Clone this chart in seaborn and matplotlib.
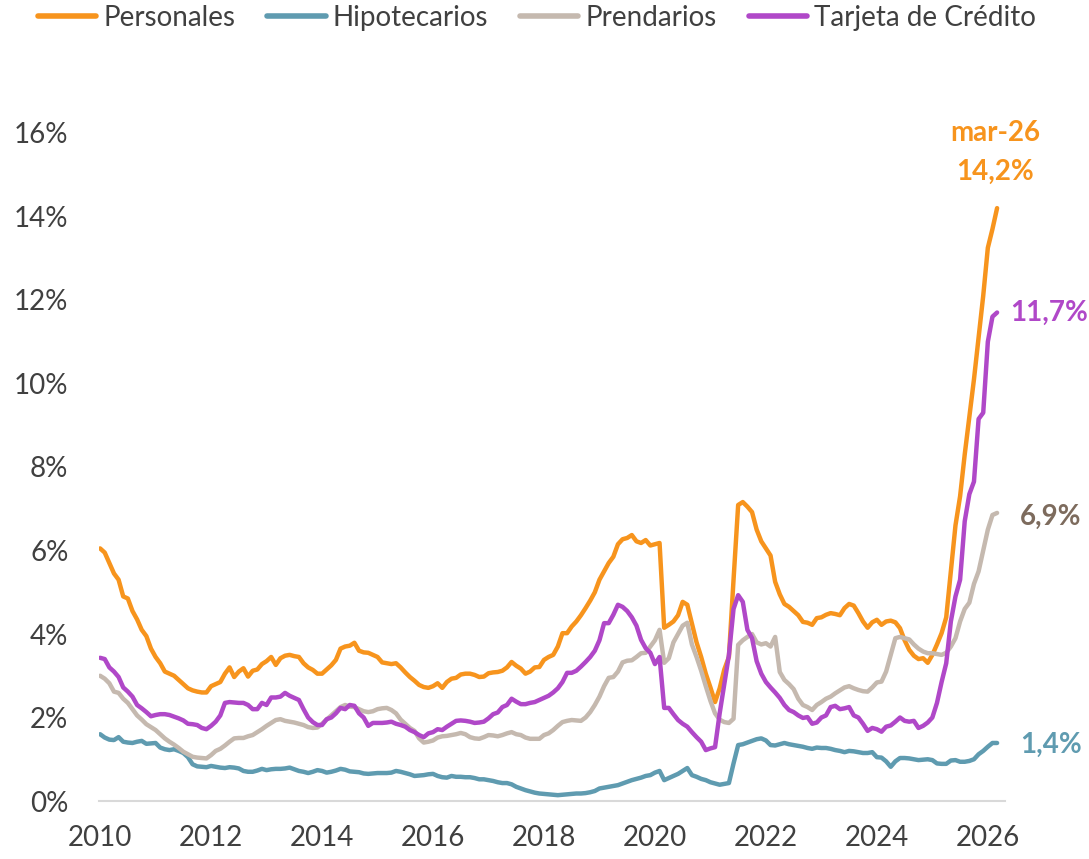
import numpy as np
import pandas as pd
import matplotlib
matplotlib.use("Agg")
import matplotlib.pyplot as plt
from matplotlib.lines import Line2D
import seaborn as sns

# monthly values, Jan 2010 .. Mar 2026 (%)
personales = [
    6.05, 5.95, 5.7, 5.45, 5.3, 4.9, 4.85, 4.55, 4.35, 4.1, 3.95, 3.65,  # 2010
    3.45, 3.3, 3.1, 3.05, 3.0, 2.9, 2.8, 2.7, 2.65, 2.62, 2.6, 2.6,  # 2011
    2.75, 2.8, 2.85, 3.05, 3.2, 2.97, 3.1, 3.18, 2.98, 3.12, 3.15, 3.28,  # 2012
    3.35, 3.45, 3.26, 3.42, 3.48, 3.5, 3.47, 3.45, 3.3, 3.2, 3.14, 3.05,  # 2013
    3.05, 3.15, 3.25, 3.38, 3.65, 3.7, 3.72, 3.79, 3.6, 3.56, 3.55, 3.5,  # 2014
    3.45, 3.32, 3.3, 3.28, 3.3, 3.2, 3.08, 2.97, 2.88, 2.78, 2.73, 2.71,  # 2015
    2.75, 2.82, 2.71, 2.85, 2.93, 2.95, 3.03, 3.05, 3.05, 3.02, 2.97, 2.98,  # 2016
    3.06, 3.08, 3.09, 3.12, 3.2, 3.33, 3.24, 3.17, 3.05, 3.1, 3.2, 3.21,  # 2017
    3.38, 3.45, 3.5, 3.7, 4.02, 4.02, 4.18, 4.3, 4.45, 4.62, 4.8, 5.0,  # 2018
    5.3, 5.5, 5.7, 5.85, 6.15, 6.27, 6.3, 6.37, 6.22, 6.18, 6.25, 6.12,  # 2019
    6.15, 6.18, 4.15, 4.22, 4.3, 4.45, 4.77, 4.7, 4.25, 3.8, 3.45, 3.05,  # 2020
    2.72, 2.37, 2.7, 3.15, 3.45, 5.3, 7.09, 7.16, 7.05, 6.92, 6.5, 6.22,  # 2021
    6.05, 5.88, 5.25, 4.95, 4.72, 4.65, 4.55, 4.45, 4.29, 4.27, 4.22, 4.38,  # 2022
    4.4, 4.46, 4.5, 4.48, 4.45, 4.62, 4.72, 4.68, 4.5, 4.3, 4.15, 4.28,  # 2023
    4.34, 4.22, 4.3, 4.32, 4.28, 4.14, 3.85, 3.62, 3.48, 3.4, 3.42, 3.31,  # 2024
    3.5, 3.75, 4.02, 4.4, 5.5, 6.6, 7.3, 8.3, 9.2, 10.1, 11.1, 12.1,  # 2025
    13.25, 13.7, 14.2,  # 2026
]
hipotecarios = [
    1.6, 1.52, 1.47, 1.46, 1.53, 1.42, 1.4, 1.39, 1.42, 1.44, 1.37, 1.38,
    1.39, 1.28, 1.24, 1.22, 1.24, 1.2, 1.15, 1.05, 0.88, 0.83, 0.82, 0.81,
    0.84, 0.82, 0.8, 0.79, 0.81, 0.8, 0.78, 0.72, 0.7, 0.7, 0.73, 0.77,
    0.74, 0.76, 0.77, 0.77, 0.78, 0.8, 0.76, 0.72, 0.7, 0.67, 0.7, 0.74,
    0.72, 0.68, 0.7, 0.73, 0.77, 0.75, 0.71, 0.7, 0.69, 0.66, 0.65, 0.66,
    0.67, 0.67, 0.67, 0.68, 0.72, 0.7, 0.67, 0.64, 0.6, 0.61, 0.62, 0.64,
    0.65, 0.6, 0.57, 0.56, 0.6, 0.58, 0.58, 0.57, 0.57, 0.55, 0.52, 0.52,
    0.5, 0.48, 0.45, 0.43, 0.43, 0.4, 0.34, 0.3, 0.26, 0.23, 0.2, 0.18,
    0.17, 0.16, 0.15, 0.14, 0.15, 0.16, 0.17, 0.18, 0.18, 0.19, 0.21, 0.24,
    0.3, 0.32, 0.34, 0.36, 0.38, 0.42, 0.46, 0.5, 0.53, 0.56, 0.6, 0.62,
    0.68, 0.72, 0.5, 0.55, 0.6, 0.65, 0.72, 0.79, 0.62, 0.58, 0.53, 0.5,
    0.45, 0.42, 0.39, 0.41, 0.43, 0.9, 1.34, 1.36, 1.4, 1.44, 1.48, 1.5,
    1.45, 1.34, 1.33, 1.36, 1.39, 1.36, 1.34, 1.32, 1.3, 1.27, 1.25, 1.28,
    1.27, 1.27, 1.25, 1.22, 1.2, 1.17, 1.2, 1.19, 1.17, 1.15, 1.15, 1.17,
    1.05, 1.04, 0.95, 0.82, 0.95, 1.03, 1.03, 1.02, 1.0, 0.98, 0.99, 1.0,
    0.98, 0.9, 0.89, 0.89, 0.97, 0.98, 0.94, 0.94, 0.96, 1.0, 1.12, 1.2,
    1.3, 1.39, 1.39,
]
prendarios = [
    3.0, 2.93, 2.82, 2.62, 2.59, 2.45, 2.35, 2.2, 2.05, 1.95, 1.84, 1.77,
    1.7, 1.6, 1.5, 1.42, 1.35, 1.27, 1.18, 1.12, 1.06, 1.04, 1.03, 1.02,
    1.1, 1.2, 1.25, 1.33, 1.42, 1.5, 1.51, 1.51, 1.55, 1.58, 1.65, 1.72,
    1.8, 1.87, 1.94, 1.96, 1.92, 1.9, 1.88, 1.85, 1.82, 1.77, 1.75, 1.76,
    1.85, 1.95, 2.05, 2.15, 2.25, 2.3, 2.26, 2.25, 2.2, 2.15, 2.13, 2.15,
    2.2, 2.22, 2.23, 2.18, 2.1, 1.95, 1.85, 1.75, 1.68, 1.5, 1.4, 1.42,
    1.45, 1.52, 1.55, 1.56, 1.58, 1.6, 1.63, 1.6, 1.53, 1.5, 1.49, 1.53,
    1.58, 1.57, 1.55, 1.58, 1.62, 1.65, 1.6, 1.58, 1.52, 1.49, 1.49, 1.49,
    1.58, 1.62, 1.7, 1.8, 1.89, 1.92, 1.94, 1.93, 1.92, 2.0, 2.13, 2.3,
    2.5, 2.75, 2.95, 2.97, 3.1, 3.32, 3.36, 3.37, 3.45, 3.54, 3.55, 3.7,
    3.85, 4.1, 3.31, 3.42, 3.8, 4.0, 4.2, 4.27, 3.75, 3.45, 3.12, 2.75,
    2.4, 2.1, 1.95, 1.89, 1.87, 1.97, 3.74, 3.85, 3.93, 4.0, 3.8, 3.75,
    3.78, 3.7, 3.93, 3.09, 2.9, 2.8, 2.68, 2.45, 2.3, 2.25, 2.18, 2.3,
    2.37, 2.45, 2.5, 2.58, 2.65, 2.72, 2.75, 2.7, 2.66, 2.63, 2.62, 2.72,
    2.84, 2.86, 3.1, 3.5, 3.9, 3.93, 3.9, 3.87, 3.75, 3.65, 3.58, 3.54,
    3.54, 3.52, 3.5, 3.55, 3.7, 3.9, 4.3, 4.6, 4.75, 5.2, 5.5, 6.0,
    6.5, 6.85, 6.9,
]
tarjeta = [
    3.43, 3.4, 3.2, 3.1, 2.97, 2.72, 2.62, 2.5, 2.3, 2.22, 2.13, 2.03,
    2.06, 2.08, 2.08, 2.06, 2.02, 1.98, 1.93, 1.85, 1.84, 1.82, 1.75, 1.72,
    1.8, 1.9, 2.05, 2.35, 2.37, 2.36, 2.35, 2.35, 2.3, 2.2, 2.2, 2.35,
    2.3, 2.48, 2.48, 2.5, 2.59, 2.52, 2.47, 2.42, 2.2, 2.0, 1.89, 1.82,
    1.82, 1.96, 2.0, 2.1, 2.23, 2.2, 2.3, 2.28, 2.1, 2.0, 1.8, 1.87,
    1.87, 1.87, 1.88, 1.9, 1.85, 1.82, 1.78, 1.7, 1.65, 1.58, 1.53, 1.62,
    1.65, 1.72, 1.7, 1.78, 1.85, 1.92, 1.93, 1.92, 1.9, 1.87, 1.88, 1.9,
    1.98, 2.08, 2.12, 2.25, 2.3, 2.45, 2.38, 2.32, 2.32, 2.35, 2.37, 2.42,
    2.47, 2.52, 2.6, 2.7, 2.85, 3.07, 3.07, 3.12, 3.22, 3.33, 3.45, 3.6,
    3.85, 4.26, 4.26, 4.46, 4.7, 4.65, 4.55, 4.4, 4.2, 3.86, 3.66, 3.55,
    3.28, 3.45, 2.23, 2.23, 2.08, 1.94, 1.85, 1.78, 1.65, 1.53, 1.42, 1.22,
    1.26, 1.29, 2.1, 2.8, 3.5, 4.6, 4.93, 4.77, 4.1, 3.9, 3.35, 3.05,
    2.85, 2.72, 2.6, 2.47, 2.3, 2.18, 2.13, 2.05, 1.99, 2.01, 1.85, 1.88,
    2.0, 2.05, 2.25, 2.28, 2.2, 2.22, 2.25, 2.05, 2.0, 1.85, 1.68, 1.75,
    1.72, 1.66, 1.78, 1.81, 1.9, 2.0, 1.92, 1.9, 1.92, 1.75, 1.8, 1.88,
    2.0, 2.35, 2.85, 3.3, 4.3, 4.9, 5.3, 6.7, 7.35, 7.65, 9.15, 9.3,
    11.0, 11.6, 11.7,
]

series_names = ["Personales", "Hipotecarios", "Prendarios", "Tarjeta de Crédito"]
colors = ["#F7941D", "#5F9BB0", "#C5B9AF", "#B048C8"]
year_ticks = list(range(2010, 2027, 2))
pct_ticks = list(range(0, 17, 2))

n = len(personales)
t = 2010 + np.arange(n) / 12.0

frames = []
for name, vals in zip(series_names, [personales, hipotecarios, prendarios, tarjeta]):
    frames.append(pd.DataFrame({"t": t, "valor": vals, "serie": name}))
df = pd.concat(frames, ignore_index=True)

sns.set_style("white")
plt.rcParams["font.family"] = ["Lato", "DejaVu Sans"]

fig = plt.figure(figsize=(10.89, 8.59), dpi=100)
ax = fig.add_axes([0.0909, 0.0675, 0.832, 0.7777])

sns.lineplot(data=df, x="t", y="valor", hue="serie", hue_order=series_names,
             palette=colors, linewidth=3.2, legend=False, ax=ax, estimator=None)

ax.set_xlim(2009.98, 2026.31)
ax.set_ylim(0, 16)
ax.set_xticks(year_ticks)
ax.set_xticklabels([str(y) for y in year_ticks])
ax.set_yticks(pct_ticks)
ax.set_yticklabels([f"{v}%" for v in pct_ticks])
ax.set_xlabel("")
ax.set_ylabel("")
ax.tick_params(axis="both", length=0, labelsize=20, labelcolor="#404040")
ax.tick_params(axis="y", pad=22)
ax.tick_params(axis="x", pad=17)
for s in ["top", "right", "left"]:
    ax.spines[s].set_visible(False)
ax.spines["bottom"].set_color("#D9D9D9")
ax.spines["bottom"].set_linewidth(1.5)
ax.grid(False)

# end labels
ax.text(2026.13, 16.0, "mar-26", color="#F7941D", fontsize=20, fontweight="bold",
        ha="center", va="center", clip_on=False)
ax.text(2026.13, 15.07, "14,2%", color="#F7941D", fontsize=20, fontweight="bold",
        ha="center", va="center", clip_on=False)
ax.text(2026.4, 11.69, "11,7%", color="#B048C8", fontsize=20, fontweight="bold",
        ha="left", va="center", clip_on=False)
ax.text(2026.58, 6.8, "6,9%", color="#7D6B5D", fontsize=20, fontweight="bold",
        ha="left", va="center", clip_on=False)
ax.text(2026.58, 1.34, "1,4%", color="#5F9BB0", fontsize=20, fontweight="bold",
        ha="left", va="center", clip_on=False)

handles = [Line2D([0], [0], color=c, lw=4) for c in colors]
leg = fig.legend(handles, series_names, loc="center", bbox_to_anchor=(0.493, 0.979),
                 ncol=4, frameon=False, fontsize=20, handlelength=2.1,
                 handletextpad=0.25, columnspacing=1.15)
for txt in leg.get_texts():
    txt.set_color("#404040")

fig.savefig("out.png", dpi=100)
